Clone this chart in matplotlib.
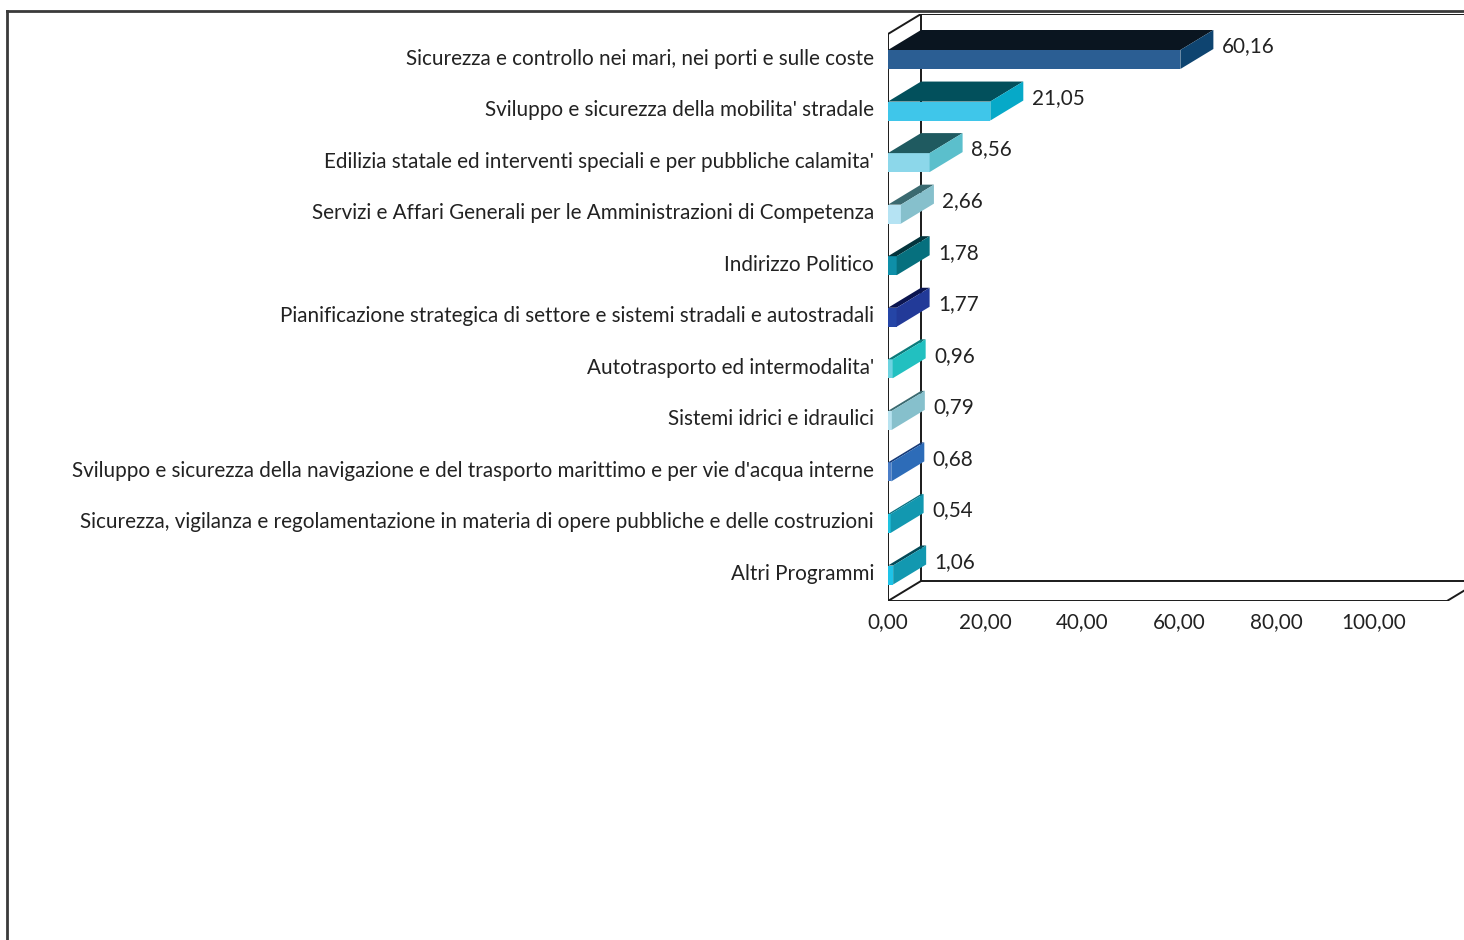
import numpy as np
import matplotlib
matplotlib.use("Agg")
import matplotlib.pyplot as plt
import matplotlib.transforms as mtransforms
from matplotlib.patches import Polygon
from matplotlib.lines import Line2D

plt.rcParams['font.family'] = ['Lato', 'DejaVu Sans']

categories = [
    "Sicurezza e controllo nei mari, nei porti e sulle coste",
    "Sviluppo e sicurezza della mobilita' stradale",
    "Edilizia statale ed interventi speciali e per pubbliche calamita'",
    "Servizi e Affari Generali per le Amministrazioni di Competenza",
    "Indirizzo Politico",
    "Pianificazione strategica di settore e sistemi stradali e autostradali",
    "Autotrasporto ed intermodalita'",
    "Sistemi idrici e idraulici",
    "Sviluppo e sicurezza della navigazione e del trasporto marittimo e per vie d'acqua interne",
    "Sicurezza, vigilanza e regolamentazione in materia di opere pubbliche e delle costruzioni",
    "Altri Programmi",
]
values = [60.16, 21.05, 8.56, 2.66, 1.78, 1.77, 0.96, 0.79, 0.68, 0.54, 1.06]
xticks = [0, 20, 40, 60, 80, 100]

# front / top / side colours of each 3d bar
front_colors = ['#2b5e93', '#3fc6ea', '#8cd7ea', '#b5e3f3', '#0e8fa8', '#2545a6',
                '#6dd3e0', '#b8e3f0', '#4b7ec8', '#1ec3e0', '#1ec3e8']
top_colors = ['#0a1520', '#02505c', '#1f5a60', '#3a6a70', '#03343c', '#0b1550',
              '#0b7a7a', '#3a6a70', '#163a78', '#087080', '#034a58']
side_colors = ['#0e4470', '#06a9c8', '#5bbfcc', '#86c0cc', '#06707e', '#223a98',
               '#22c0c0', '#86c0cc', '#2d6cb8', '#1298b0', '#1298b0']


def fmt(v):
    return ("%.2f" % v).replace('.', ',')


W, H = 1464, 940
fig = plt.figure(figsize=(W / 100, H / 100), dpi=100)
fs = 14.85
tc = '#222222'

# geometry in pixels -> data
px_per_unit = 4.86
px_per_cat = 51.55
y0_px = 59.5          # centre of first bar
x0_px = 888
ax_top_px, ax_bot_px = 14, 601
xmax = (W - x0_px) / px_per_unit
ytop = (ax_top_px - y0_px) / px_per_cat
ybot = (ax_bot_px - y0_px) / px_per_cat

ax = fig.add_axes([x0_px / W, (H - ax_bot_px) / H, (W - x0_px) / W,
                   (ax_bot_px - ax_top_px) / H])
ax.set_xlim(0, xmax)
ax.set_ylim(ybot, ytop)
for s in ax.spines.values():
    s.set_visible(False)

dx = 33 / px_per_unit
dy = 20 / px_per_cat
h = 19 / px_per_cat
lc = '#1a1a1a'
lw = 1.4

# walls
wall_x_end = (1447 - x0_px) / px_per_unit
wall_top = (34 - y0_px) / px_per_cat
ax.plot([0, wall_x_end, wall_x_end + dx * 3], [ybot, ybot, ybot - dy * 3], color=lc, lw=lw)
ax.plot([dx, xmax + 5], [ybot - dy, ybot - dy], color=lc, lw=lw)
ax.plot([0, dx], [ybot, ybot - dy], color=lc, lw=lw)
ax.plot([0, 0], [ybot, wall_top], color=lc, lw=lw)
ax.plot([0, dx], [wall_top, wall_top - dy], color=lc, lw=lw)
ax.plot([dx, dx], [wall_top - dy, ybot - dy], color=lc, lw=lw)
ax.plot([dx, xmax + 5], [wall_top - dy, wall_top - dy], color=lc, lw=lw)

# bars
ypos = np.arange(len(values))
ax.barh(ypos, values, height=h, color=front_colors, zorder=3)
for i, v in enumerate(values):
    yt = i - h / 2
    yb = i + h / 2
    ax.add_patch(Polygon([(0, yt), (v, yt), (v + dx, yt - dy), (dx, yt - dy)],
                         closed=True, facecolor=top_colors[i], edgecolor='none', zorder=3))
    ax.add_patch(Polygon([(v, yt), (v, yb), (v + dx, yb - dy), (v + dx, yt - dy)],
                         closed=True, facecolor=side_colors[i], edgecolor='none', zorder=3))
    ax.text(v + dx + 1.7, i - dy / 2 - 0.06, fmt(v), ha='left', va='center',
            fontsize=fs, color=tc, zorder=4)

ax.set_yticks(ypos)
ax.set_yticklabels(categories, fontsize=fs, color=tc)
ax.set_xticks(xticks)
ax.set_xticklabels([fmt(t) for t in xticks], fontsize=fs, color=tc)
ax.tick_params(axis='y', length=0, pad=10)
ax.tick_params(axis='x', length=0, pad=8)
shift = mtransforms.ScaledTranslation(0, 3 / 100, fig.dpi_scale_trans)
for lab in ax.get_yticklabels():
    lab.set_transform(lab.get_transform() + shift)

# outer chart frame
fig.add_artist(Line2D([7 / W, 7 / W], [0, 1 - 11 / H], color='#3a3a3a', lw=2))
fig.add_artist(Line2D([7 / W, 1], [1 - 11 / H, 1 - 11 / H], color='#3a3a3a', lw=2))

fig.savefig("out.png", dpi=100)
